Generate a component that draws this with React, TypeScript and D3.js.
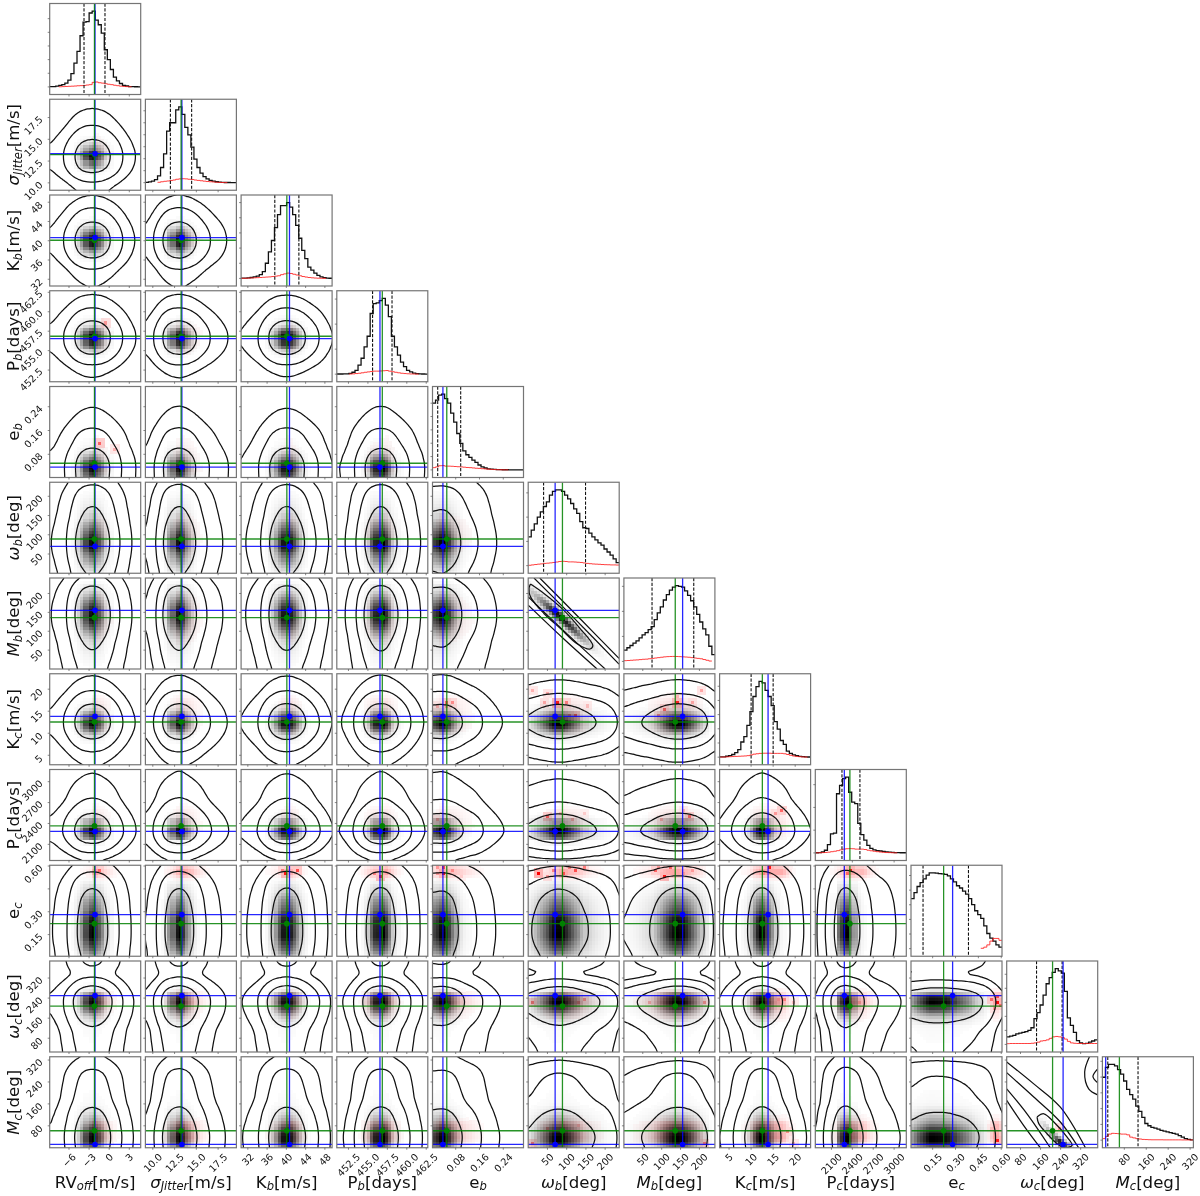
import React, { useEffect, useRef } from 'react'
import * as d3 from 'd3'

// parameter order, first column to last
const names = ['RVoff', 'jitter', 'Kb', 'Pb', 'eb', 'wb', 'Mb', 'Kc', 'Pc', 'ec', 'wc', 'Mc']
const labelMain = ['RV', 'σ', 'K', 'P', 'e', 'ω', 'M', 'K', 'P', 'e', 'ω', 'M']
const labelSub = ['off', 'Jitter', 'b', 'b', 'b', 'b', 'b', 'c', 'c', 'c', 'c', 'c']
const labelUnit = ['[m/s]', '[m/s]', '[m/s]', '[days]', '', '[deg]', '[deg]', '[m/s]', '[days]', '', '[deg]', '[deg]']
const labelItalic = [false, true, false, false, false, true, true, false, false, false, true, true]

const domains: [number, number][] = [
  [-8.88, 4.7], [9.15, 19.6], [30.6, 49.5], [451, 462.7], [0.002, 0.308], [0, 236.5],
  [0, 241], [2.85, 23.5], [1868, 3175], [0.008, 0.605], [25, 388], [0, 332],
]
const ticks = [
  [-6, -3, 0, 3], [10, 12.5, 15, 17.5], [32, 36, 40, 44, 48], [452.5, 455, 457.5, 460, 462.5],
  [0.08, 0.16, 0.24], [50, 100, 150, 200], [50, 100, 150, 200], [5, 10, 15, 20],
  [2100, 2400, 2700, 3000], [0.15, 0.3, 0.45, 0.6], [80, 160, 240, 320], [80, 160, 240, 320],
]
const tickDigits = [0, 1, 0, 1, 2, 0, 0, 0, 0, 2, 0, 0]
const histTickStep = [0.18, 0.158, 0.2, 0.33, 0.176, 0.32, 0.33, 0.187, 0.3, 0.193, 0.185, 0.208]

const truthBlue = [-2.12, 13.34, 40.65, 456.55, 0.037, 70, 155.5, 13.85, 2285, 0.281, 250, 12]
const truthGreen = [-2.2, 13.25, 40.1, 456.85, 0.05, 89, 136, 12.55, 2365, 0.222, 208, 62]
const quantLow = [-3.76, 12.02, 37.6, 455.6, 0.0195, 40, 74.5, 10, 2251, 0.087, 144, 19.6]
const quantHigh = [-0.63, 14.46, 42.6, 458.1, 0.0968, 149, 185, 15, 2509, 0.385, 246, 130]

const histBlack = [
  [0.005, 0.005, 0.01, 0.02, 0.03, 0.05, 0.09, 0.175, 0.315, 0.47, 0.675, 0.855, 0.86, 0.975, 1, 0.88, 0.82, 0.71, 0.49, 0.36, 0.23, 0.13, 0.08, 0.045, 0.02, 0.012, 0.005, 0.003, 0.002, 0.001],
  [0.005, 0.01, 0.02, 0.04, 0.09, 0.2, 0.38, 0.68, 0.79, 0.79, 0.96, 1, 0.9, 0.73, 0.63, 0.47, 0.31, 0.2, 0.125, 0.08, 0.05, 0.03, 0.02, 0.012, 0.008, 0.005, 0.002, 0.002, 0.001, 0.001],
  [0.003, 0.005, 0.008, 0.012, 0.02, 0.03, 0.05, 0.09, 0.2, 0.35, 0.5, 0.67, 0.84, 0.96, 0.96, 1, 0.94, 0.84, 0.7, 0.53, 0.37, 0.26, 0.15, 0.11, 0.07, 0.04, 0.02, 0.01, 0.005, 0.002],
  [0.002, 0.002, 0.003, 0.005, 0.01, 0.025, 0.05, 0.12, 0.21, 0.36, 0.5, 0.8, 0.93, 0.94, 0.97, 1, 0.91, 0.76, 0.5, 0.36, 0.25, 0.16, 0.1, 0.05, 0.03, 0.015, 0.008, 0.004, 0.002, 0.001],
  [0.88, 0.92, 0.985, 1, 0.94, 0.88, 0.75, 0.63, 0.48, 0.35, 0.25, 0.2, 0.165, 0.13, 0.1, 0.065, 0.04, 0.025, 0.015, 0.01, 0.006, 0.004, 0.003, 0.002, 0.002, 0.001, 0.001, 0.001, 0.001, 0.001],
  [0.38, 0.47, 0.55, 0.64, 0.71, 0.78, 0.84, 0.93, 0.98, 1, 1, 0.98, 0.93, 0.88, 0.82, 0.75, 0.69, 0.58, 0.5, 0.49, 0.43, 0.38, 0.34, 0.3, 0.27, 0.22, 0.18, 0.14, 0.09, 0.04],
  [0.15, 0.18, 0.21, 0.24, 0.27, 0.31, 0.35, 0.38, 0.42, 0.46, 0.55, 0.64, 0.72, 0.81, 0.88, 0.94, 0.98, 1, 0.99, 0.98, 0.93, 0.87, 0.8, 0.72, 0.62, 0.52, 0.43, 0.35, 0.2, 0.09],
  [0.003, 0.005, 0.012, 0.02, 0.035, 0.06, 0.1, 0.2, 0.27, 0.42, 0.6, 0.8, 0.93, 1, 0.98, 0.88, 0.8, 0.68, 0.47, 0.37, 0.22, 0.17, 0.08, 0.05, 0.03, 0.02, 0.01, 0.006, 0.003, 0.002],
  [0.002, 0.004, 0.012, 0.035, 0.11, 0.25, 0.26, 0.78, 0.89, 0.98, 1, 0.8, 0.67, 0.65, 0.39, 0.24, 0.17, 0.1, 0.06, 0.04, 0.03, 0.025, 0.02, 0.015, 0.01, 0.007, 0.004, 0.003, 0.002, 0.002],
  [0.66, 0.74, 0.82, 0.87, 0.92, 0.97, 1, 1, 0.995, 0.99, 0.985, 0.98, 0.96, 0.92, 0.88, 0.83, 0.8, 0.76, 0.72, 0.66, 0.58, 0.5, 0.45, 0.4, 0.3, 0.2, 0.14, 0.1, 0.05, 0.02],
  [0.1, 0.11, 0.12, 0.14, 0.15, 0.16, 0.17, 0.185, 0.22, 0.34, 0.42, 0.52, 0.65, 0.8, 0.88, 0.95, 1, 0.97, 0.94, 0.7, 0.35, 0.25, 0.16, 0.05, 0.02, 0.01, 0.015, 0.03, 0.045, 0.06],
  [0.83, 0.96, 1, 1, 0.98, 0.93, 0.87, 0.78, 0.67, 0.6, 0.54, 0.45, 0.38, 0.3, 0.22, 0.19, 0.17, 0.16, 0.145, 0.13, 0.12, 0.11, 0.1, 0.09, 0.08, 0.06, 0.04, 0.02, 0.01, 0.005],
]

const histRed = [
  [0, 0, 0, 0.002, 0.004, 0.006, 0.008, 0.01, 0.012, 0.015, 0.017, 0.02, 0.025, 0.03, 0.06, 0.065, 0.055, 0.05, 0.042, 0.035, 0.03, 0.022, 0.016, 0.01, 0.006, 0.004, 0.002, 0, 0, 0],
  [0, 0, 0, 0, 0.005, 0.012, 0.018, 0.022, 0.028, 0.035, 0.045, 0.05, 0.052, 0.05, 0.045, 0.042, 0.035, 0.03, 0.025, 0.02, 0.015, 0.012, 0.009, 0.006, 0.004, 0.002, 0.001, 0, 0, 0],
  [0.001, 0.002, 0.004, 0.006, 0.008, 0.01, 0.012, 0.015, 0.018, 0.02, 0.025, 0.03, 0.035, 0.05, 0.06, 0.07, 0.065, 0.055, 0.045, 0.035, 0.025, 0.018, 0.012, 0.008, 0.005, 0.003, 0.002, 0.001, 0, 0],
  [0, 0, 0, 0, 0.002, 0.004, 0.008, 0.012, 0.018, 0.025, 0.03, 0.035, 0.04, 0.04, 0.042, 0.045, 0.048, 0.04, 0.032, 0.025, 0.018, 0.012, 0.008, 0.005, 0.003, 0.002, 0.001, 0, 0, 0],
  [0.03, 0.04, 0.055, 0.057, 0.05, 0.05, 0.048, 0.045, 0.042, 0.04, 0.036, 0.032, 0.03, 0.026, 0.022, 0.02, 0.016, 0.013, 0.01, 0.007, 0.005, 0.003, 0.002, 0.001, 0.001, 0, 0, 0, 0, 0],
  [0.005, 0.01, 0.015, 0.02, 0.024, 0.03, 0.033, 0.037, 0.042, 0.048, 0.055, 0.058, 0.055, 0.05, 0.05, 0.048, 0.045, 0.042, 0.036, 0.03, 0.026, 0.022, 0.02, 0.018, 0.015, 0.013, 0.012, 0.01, 0.01, 0.008],
  [0.01, 0.012, 0.015, 0.018, 0.02, 0.024, 0.028, 0.03, 0.035, 0.04, 0.045, 0.05, 0.055, 0.06, 0.063, 0.065, 0.066, 0.065, 0.063, 0.06, 0.058, 0.055, 0.05, 0.045, 0.04, 0.035, 0.025, 0.015, 0.005, 0],
  [0.001, 0.002, 0.004, 0.006, 0.008, 0.01, 0.012, 0.014, 0.016, 0.02, 0.03, 0.04, 0.045, 0.05, 0.052, 0.052, 0.052, 0.05, 0.05, 0.05, 0.05, 0.045, 0.035, 0.025, 0.015, 0.01, 0.006, 0.003, 0.001, 0],
  [0.001, 0.002, 0.004, 0.006, 0.01, 0.016, 0.022, 0.03, 0.04, 0.05, 0.055, 0.057, 0.055, 0.05, 0.05, 0.05, 0.045, 0.035, 0.028, 0.022, 0.016, 0.012, 0.008, 0.005, 0.004, 0.002, 0.001, 0, 0, 0],
  [0, 0, 0, 0, 0, 0, 0, 0, 0, 0, 0, 0, 0, 0, 0, 0, 0, 0, 0, 0, 0, 0, 0, 0.005, 0.02, 0.05, 0.1, 0.135, 0.135, 0.11],
  [0.01, 0.012, 0.012, 0.012, 0.012, 0.012, 0.012, 0.012, 0.015, 0.02, 0.03, 0.045, 0.05, 0.06, 0.08, 0.1, 0.105, 0.1, 0.09, 0.07, 0.04, 0.02, 0.015, 0.012, 0.012, 0.012, 0.012, 0.012, 0.012, 0.012],
  [0.02, 0.05, 0.08, 0.09, 0.088, 0.085, 0.08, 0.08, 0.07, 0.04, 0.03, 0.02, 0.015, 0.01, 0.008, 0.006, 0.005, 0.005, 0.005, 0.005, 0.004, 0.004, 0.004, 0.004, 0.004, 0.004, 0.003, 0.003, 0.003, 0.003],
]

// red cells that stand out from the smooth overlay: row, col, x value, y value, strength
const redSpots = [
  [3, 0, -0.5, 458.5, 0.4], [4, 0, -1.2, 0.12, 0.6], [4, 0, 1, 0.1, 0.3],
  [7, 4, 0.044, 17.2, 0.6], [7, 4, 0.066, 17.2, 0.45], [7, 4, 0.044, 16, 0.4], [7, 4, 0.022, 16, 0.3],
  [7, 5, 77, 17.2, 0.9], [7, 5, 14, 19.8, 0.3], [7, 5, 53, 19, 0.35], [7, 5, 96, 16.8, 0.5], [7, 5, 40, 17.2, 0.35], [7, 5, 126, 14.5, 0.6], [7, 5, 109, 14.1, 0.4], [7, 5, 152, 16, 0.25],
  [7, 6, 142, 17, 0.85], [7, 6, 105, 15.3, 0.6], [7, 6, 206, 20, 0.35], [7, 6, 96, 14.5, 0.4], [7, 6, 180, 17.2, 0.35], [7, 6, 144, 18, 0.3],
  [8, 4, 0.021, 2473, 0.3], [8, 4, 0.05, 2473, 0.25],
  [8, 5, 50, 2497, 0.6], [8, 5, 79, 2545, 0.25], [8, 5, 118, 2473, 0.3], [8, 5, 144, 2545, 0.2],
  [8, 6, 171, 2497, 0.6], [8, 6, 157, 2569, 0.3], [8, 6, 100, 2473, 0.3],
  [8, 7, 17, 2600, 0.6], [8, 7, 15.5, 2550, 0.4],
  [9, 0, -1.5, 0.57, 0.6], [9, 1, 13, 0.57, 0.3],
  [9, 2, 39.7, 0.547, 0.9], [9, 2, 42.1, 0.58, 0.7], [9, 2, 38.8, 0.57, 0.5],
  [9, 3, 456.8, 0.536, 0.8], [9, 3, 455.7, 0.55, 0.5],
  [9, 4, 0.038, 0.565, 0.9], [9, 4, 0.038, 0.587, 0.7], [9, 4, 0.072, 0.575, 0.45], [9, 4, 0.02, 0.598, 0.4], [9, 4, 0.014, 0.55, 0.4], [9, 4, 0.1, 0.54, 0.2],
  [9, 5, 31, 0.56, 1], [9, 5, 92, 0.565, 0.7], [9, 5, 126, 0.576, 0.7], [9, 5, 66, 0.576, 0.5], [9, 5, 144, 0.598, 0.5], [9, 5, 48, 0.536, 0.4], [9, 5, 109, 0.598, 0.5],
  [9, 6, 105, 0.543, 0.9], [9, 6, 87, 0.576, 0.6], [9, 6, 122, 0.587, 0.6], [9, 6, 92, 0.598, 0.4], [9, 6, 157, 0.554, 0.4], [9, 6, 184, 0.576, 0.4],
  [9, 7, 14.5, 0.59, 0.9], [9, 7, 12.5, 0.56, 0.5], [9, 8, 2370, 0.58, 0.9], [9, 8, 2330, 0.55, 0.6],
  [10, 5, 15, 224, 0.5], [10, 5, 127, 224, 0.4], [10, 5, 148, 234, 0.4], [10, 5, 105, 231, 0.4],
  [10, 6, 70, 224, 0.3], [10, 6, 144, 234, 0.3], [10, 6, 210, 222, 0.4],
  [10, 7, 17.7, 234, 0.5], [10, 7, 16.2, 231, 0.4], [10, 7, 19.6, 224, 0.25], [10, 8, 2513, 224, 0.4],
  [10, 9, 0.57, 224, 0.95], [10, 9, 0.57, 244, 0.7], [10, 9, 0.54, 231, 0.6], [10, 9, 0.59, 218, 0.6], [10, 9, 0.55, 198, 0.4],
  [11, 5, 15, 21, 0.5], [11, 5, 49, 70, 0.35], [11, 5, 127, 88, 0.3],
  [11, 6, 210, 21, 0.5], [11, 7, 18, 63, 0.45], [11, 7, 17, 51, 0.3], [11, 7, 19.6, 21, 0.3],
  [11, 9, 0.57, 29, 0.9], [11, 9, 0.56, 51, 0.3], [11, 9, 0.53, 75, 0.25], [11, 10, 239, 69, 0.4],
]

const mbWbContours: [number, number][][] = [
  [[6, 225], [41, 200], [92, 156], [135, 107], [168, 62], [161, 53], [127, 67], [84, 107], [41, 147], [6, 191], [2, 213], [6, 225]],
  [[15, 241], [118, 136], [236, 13]],
  [[0, 191], [101, 93], [200, 0]],
  [[30, 241], [135, 133], [236, 28]],
  [[0, 169], [92, 80], [179, 0]],
]
const mcWcContours: [number, number][][] = [
  [[146, 112], [173, 124], [213, 94], [266, 39], [286, 9], [259, 0], [226, 15], [186, 51], [153, 88], [146, 112]],
  [[25, 313], [133, 233], [239, 148], [339, 0]],
  [[25, 274], [133, 185], [239, 94], [312, 0]],
  [[25, 215], [106, 124], [199, 0]],
  [[25, 173], [93, 81], [159, 0]],
  [[355, 332], [336, 276], [352, 215], [388, 193]],
  [[388, 288], [369, 260], [388, 237]],
]
const mbRidgeX = [0, 20, 40, 60, 80, 100, 120, 140, 160, 180, 200, 236]
const mbRidgeY = [215, 195, 178, 160, 141, 122, 104, 85, 68, 50, 32, 0]
const mbRidgeAmp = [0.25, 0.4, 0.6, 0.85, 1, 0.9, 0.75, 0.5, 0.3, 0.12, 0.05, 0]
const mcRidgeX = [100, 140, 160, 180, 200, 220, 240, 260, 280, 300]
const mcRidgeY = [150, 115, 95, 80, 55, 35, 20, 8, 0, -10]
const mcRidgeAmp = [0, 0.05, 0.15, 0.3, 0.45, 0.7, 1, 0.8, 0.3, 0]

const BINS = 30
const PAD = 2
const LEVELS = [0.68, 0.95, 0.997]
const panelLeft = (i: number) => 49.7 + 95.7 * i
const panelTop = (i: number) => 3.5 + 95.75 * i
const SIZE = 91
const FONT = 'DejaVu Sans, sans-serif'

function textHalf(s: string) {
  let w = 0
  for (const c of s) w += c === '.' ? 0.318 : c === '−' ? 0.838 : 0.636
  return ((w * 9.7 + 7.2) * 0.707) / 2
}

function tickText(p: number, v: number) {
  return d3.format(`.${tickDigits[p]}f`)(v).replace('-', '−')
}

function App() {
  const ref = useRef<SVGSVGElement>(null)

  useEffect(() => {
    const svg = d3.select(ref.current)
    svg.selectAll('*').remove()
    const defs = svg.append('defs')

    names.forEach((_, row) => {
      for (let col = 0; col <= row; col++) {
        const left = panelLeft(col)
        const top = panelTop(row)
        const x = d3.scaleLinear(domains[col], [left, left + SIZE])
        const g = svg.append('g')
        const clipId = `clip-${row}-${col}`
        defs.append('clipPath').attr('id', clipId).append('rect')
          .attr('x', left).attr('y', top).attr('width', SIZE).attr('height', SIZE)
        const inner = g.append('g').attr('clip-path', `url(#${clipId})`)
        const edgeX = (i: number) => x(domains[col][0] + ((domains[col][1] - domains[col][0]) * i) / BINS)

        if (row === col) {
          const yH = d3.scaleLinear([-0.1, 1.1], [top + SIZE, top])
          const step = d3.line<[number, number]>().x(d => edgeX(d[0])).y(d => yH(d[1])).curve(d3.curveStepAfter)
          const black = histBlack[col].map((v, i) => [i, v] as [number, number])
          black.push([BINS, histBlack[col][BINS - 1]])
          const firstRed = histRed[col].findIndex(v => v > 0)
          const lastRed = BINS - 1 - [...histRed[col]].reverse().findIndex(v => v > 0)
          const red = histRed[col].map((v, i) => [i, v] as [number, number]).slice(firstRed, lastRed + 1)
          red.push([lastRed + 1, histRed[col][lastRed]])

          inner.append('path').attr('d', step(black)).attr('fill', 'none').attr('stroke', '#111').attr('stroke-width', 1.3)
          inner.append('path').attr('d', step(red)).attr('fill', 'none').attr('stroke', '#ff2020').attr('stroke-width', 1).attr('opacity', 0.85)
          ;[quantLow[col], quantHigh[col]].forEach(q => {
            inner.append('line').attr('x1', x(q)).attr('x2', x(q)).attr('y1', top).attr('y2', top + SIZE)
              .attr('stroke', '#111').attr('stroke-width', 1.1).attr('stroke-dasharray', '3.2,1.6')
          })
          inner.append('line').attr('x1', x(truthBlue[col])).attr('x2', x(truthBlue[col])).attr('y1', top).attr('y2', top + SIZE)
            .attr('stroke', '#0000ff').attr('stroke-width', 1.3).attr('opacity', 0.85)
          inner.append('line').attr('x1', x(truthGreen[col])).attr('x2', x(truthGreen[col])).attr('y1', top).attr('y2', top + SIZE)
            .attr('stroke', '#008000').attr('stroke-width', 1.3).attr('opacity', 0.85)
        } else {
          const y = d3.scaleLinear(domains[row], [top + SIZE, top])
          const edgeY = (i: number) => y(domains[row][0] + ((domains[row][1] - domains[row][0]) * i) / BINS)
          const ridge = col === 5 && row === 6
            ? { xs: mbRidgeX, ys: mbRidgeY, amp: mbRidgeAmp, w: 13 }
            : col === 10 && row === 11
              ? { xs: mcRidgeX, ys: mcRidgeY, amp: mcRidgeAmp, w: 14 }
              : null
          const ridgeY = ridge && d3.scaleLinear(ridge.xs, ridge.ys)
          const ridgeAmp = ridge && d3.scaleLinear(ridge.xs, ridge.amp).clamp(true)

          // joint density from the two read marginals, padded so that contours close outside the axes
          const W = BINS + 2 * PAD
          const grid = new Float64Array(W * W)
          for (let j = 0; j < W; j++) {
            for (let i = 0; i < W; i++) {
              const ci = Math.min(BINS - 1, Math.max(0, i - PAD))
              const cj = Math.min(BINS - 1, Math.max(0, j - PAD))
              grid[j * W + i] = histBlack[col][ci] * histBlack[row][cj]
            }
          }
          const gridMax = d3.max(grid) as number
          const blurred = d3.blur2({ data: Float64Array.from(grid), width: W, height: W }, 0.8).data as Float64Array
          const inside: number[] = []
          for (let j = PAD; j < W - PAD; j++) for (let i = PAD; i < W - PAD; i++) inside.push(blurred[j * W + i])

          const redMax = (d3.max(histRed[col]) as number) * (d3.max(histRed[row]) as number)
          const redGain = row >= 9 ? 0.35 : 0.1
          const spots = redSpots.filter(s => s[0] === row && s[1] === col)
          const cells: { i: number; j: number; fill: string }[] = []
          for (let j = 0; j < BINS; j++) {
            for (let i = 0; i < BINS; i++) {
              let a = Math.min(1, Math.pow(grid[(j + PAD) * W + i + PAD] / gridMax, 2.2))
              let r = ridge ? 0 : redGain * Math.pow((histRed[col][i] * histRed[row][j]) / redMax, 2)
              if (ridge && ridgeY && ridgeAmp) {
                const xv = domains[col][0] + ((i + 0.5) * (domains[col][1] - domains[col][0])) / BINS
                const yv = domains[row][0] + ((j + 0.5) * (domains[row][1] - domains[row][0])) / BINS
                a = Math.min(1, Math.pow(ridgeAmp(xv) * Math.exp(-0.5 * ((yv - ridgeY(xv)) / ridge.w) ** 2), 1.3))
              }
              if (r < 0.02) r = 0
              spots.forEach(s => {
                const si = Math.floor(((s[2] - domains[col][0]) / (domains[col][1] - domains[col][0])) * BINS)
                const sj = Math.floor(((s[3] - domains[row][0]) / (domains[row][1] - domains[row][0])) * BINS)
                if (si === i && sj === j) r = Math.max(r, s[4])
                else if (Math.abs(si - i) <= 1 && Math.abs(sj - j) <= 1) r = Math.max(r, s[4] * 0.3)
              })
              const v = 255 * (1 - a)
              const gb = v * (1 - r)
              if (gb < 252) cells.push({ i, j, fill: `rgb(${Math.round(v)},${Math.round(gb)},${Math.round(gb)})` })
            }
          }
          inner.append('g').attr('shape-rendering', 'crispEdges').selectAll('rect').data(cells).join('rect')
            .attr('x', d => edgeX(d.i)).attr('y', d => edgeY(d.j + 1))
            .attr('width', d => edgeX(d.i + 1) - edgeX(d.i) + 0.4)
            .attr('height', d => edgeY(d.j) - edgeY(d.j + 1) + 0.4)
            .attr('fill', d => d.fill)

          const contourG = inner.append('g').attr('fill', 'none').attr('stroke', '#111').attr('stroke-width', 1.25)
          if (ridge) {
            const hand = col === 5 ? mbWbContours : mcWcContours
            const line = d3.line<[number, number]>().x(d => x(d[0])).y(d => y(d[1])).curve(d3.curveCatmullRom)
            hand.forEach(c => contourG.append('path').attr('d', line(c)))
          } else {
            const sorted = inside.slice().sort((a, b) => b - a)
            const total = d3.sum(sorted)
            const levels = LEVELS.map(m => {
              let cum = 0
              for (const v of sorted) {
                cum += v
                if (cum >= m * total) return v
              }
              return sorted[sorted.length - 1]
            })
            const polys = d3.contours().size([W, W]).thresholds(levels)(Array.from(blurred))
            const toX = d3.scaleLinear([PAD, W - PAD], [left, left + SIZE])
            const toY = d3.scaleLinear([PAD, W - PAD], [top + SIZE, top])
            const line = d3.line<number[]>().x(d => toX(d[0])).y(d => toY(d[1])).curve(d3.curveBasisClosed)
            polys.forEach(poly => {
              poly.coordinates.forEach(rings => rings.forEach(ringPts => {
                contourG.append('path').attr('d', line(ringPts.slice(0, -1) as number[][]))
              }))
            })
          }

          // truth lines and markers
          inner.append('line').attr('x1', x(truthBlue[col])).attr('x2', x(truthBlue[col])).attr('y1', top).attr('y2', top + SIZE)
            .attr('stroke', '#0000ff').attr('stroke-width', 1.3).attr('opacity', 0.85)
          inner.append('line').attr('x1', left).attr('x2', left + SIZE).attr('y1', y(truthBlue[row])).attr('y2', y(truthBlue[row]))
            .attr('stroke', '#0000ff').attr('stroke-width', 1.3).attr('opacity', 0.85)
          inner.append('line').attr('x1', x(truthGreen[col])).attr('x2', x(truthGreen[col])).attr('y1', top).attr('y2', top + SIZE)
            .attr('stroke', '#008000').attr('stroke-width', 1.3).attr('opacity', 0.85)
          inner.append('line').attr('x1', left).attr('x2', left + SIZE).attr('y1', y(truthGreen[row])).attr('y2', y(truthGreen[row]))
            .attr('stroke', '#008000').attr('stroke-width', 1.3).attr('opacity', 0.85)
          inner.append('circle').attr('cx', x(truthGreen[col])).attr('cy', y(truthGreen[row])).attr('r', 2.8).attr('fill', '#008000')
          inner.append('circle').attr('cx', x(truthBlue[col])).attr('cy', y(truthBlue[row])).attr('r', 2.8).attr('fill', '#0000ff')
        }

        // frame and ticks
        g.append('rect').attr('x', left).attr('y', top).attr('width', SIZE).attr('height', SIZE)
          .attr('fill', 'none').attr('stroke', '#757575').attr('stroke-width', 1.2)
        ticks[col].forEach(t => {
          g.append('line').attr('x1', x(t)).attr('x2', x(t)).attr('y1', top + SIZE).attr('y2', top + SIZE + 2)
            .attr('stroke', '#555').attr('stroke-width', 0.7)
        })
        const yTicks = row === col
          ? d3.range(0, 1.05, histTickStep[col]).map(v => d3.scaleLinear([-0.1, 1.1], [top + SIZE, top])(v))
          : ticks[row].map(t => d3.scaleLinear(domains[row], [top + SIZE, top])(t))
        yTicks.forEach(py => {
          g.append('line').attr('x1', left - 2).attr('x2', left).attr('y1', py).attr('y2', py)
            .attr('stroke', '#555').attr('stroke-width', 0.7)
        })

        // tick labels on the outer edges only
        if (row === names.length - 1) {
          ticks[col].forEach(t => {
            const s = tickText(col, t)
            const cy = top + SIZE + 4.8 + textHalf(s)
            g.append('text').attr('transform', `translate(${x(t)},${cy}) rotate(-45)`)
              .attr('text-anchor', 'middle').attr('dominant-baseline', 'central')
              .attr('font-family', FONT).attr('font-size', 9.7).attr('fill', '#111').text(s)
          })
        }
        if (col === 0 && row > 0) {
          const yAxis = d3.scaleLinear(domains[row], [top + SIZE, top])
          ticks[row].filter(t => !(row === 9 && t === 0.45)).forEach(t => {
            const s = tickText(row, t)
            const half = textHalf(s)
            g.append('text').attr('transform', `translate(${43.5 - half},${yAxis(t) + half * 0.77}) rotate(-45)`)
              .attr('text-anchor', 'middle').attr('dominant-baseline', 'central')
              .attr('font-family', FONT).attr('font-size', 9.7).attr('fill', '#111').text(s)
          })
        }
      }
    })

    // axis titles
    const addLabel = (sel: any, p: number) => {
      sel.attr('font-family', FONT).attr('font-size', 16.6).attr('fill', '#111').attr('text-anchor', 'middle')
      sel.append('tspan').attr('font-style', labelItalic[p] ? 'italic' : 'normal').text(labelMain[p])
      sel.append('tspan').attr('font-style', 'italic').attr('font-size', 11.6).attr('dy', 2.8).text(labelSub[p])
      if (labelUnit[p]) sel.append('tspan').attr('dy', -2.8).text(labelUnit[p])
    }
    names.forEach((_, p) => {
      addLabel(svg.append('text').attr('x', panelLeft(p) + SIZE / 2).attr('y', 1187.5), p)
      if (p > 0) {
        addLabel(svg.append('text').attr('transform', `translate(18.8,${panelTop(p) + SIZE / 2}) rotate(-90)`), p)
      }
    })
  }, [])

  return <svg ref={ref} width={1200} height={1196} style={{ position: 'absolute', left: 0, top: 0, background: '#fff', filter: 'blur(0.4px)' }} />
}

export default App
